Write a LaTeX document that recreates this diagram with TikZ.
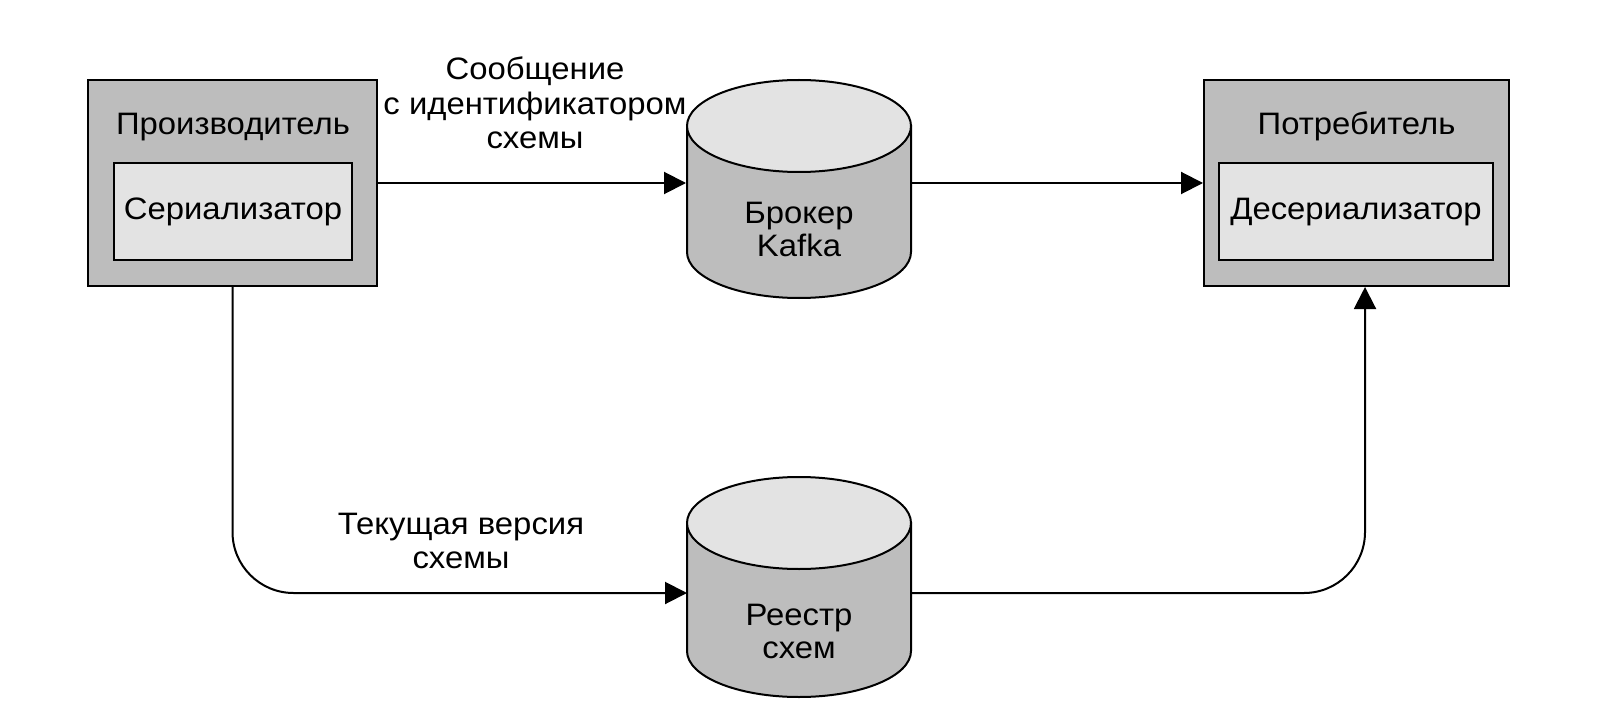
\documentclass[tikz,border=0pt]{standalone}
\usepackage{fontspec}
\setmainfont{Liberation Sans}[FakeStretch=1.06]
\usetikzlibrary{arrows.meta}
\definecolor{boxgray}{HTML}{BDBDBD}
\definecolor{lightfill}{HTML}{E3E3E3}
\begin{document}
\begin{tikzpicture}[x=1pt,y=-1pt,line width=2pt,
  font=\fontsize{31}{34.5}\selectfont,
  outerbox/.style={draw,fill=boxgray,inner sep=0pt},
  innerbox/.style={draw,fill=lightfill,inner sep=0pt},
  lbl/.style={inner sep=0pt,anchor=base},
  hidden/.style={inner sep=0pt},
  arr/.style={-{Triangle[length=22pt,width=22pt]}},
  cylbody/.style={draw,fill=boxgray},
  cyltop/.style={draw,fill=lightfill}]
\useasboundingbox (0,0) rectangle (1602,719);

% Producer
\node[outerbox,minimum width=289pt,minimum height=206pt] (prod) at (232.5,183) {};
\node[innerbox,minimum width=238pt,minimum height=97pt] (ser) at (233,211.5) {};
\node[lbl] (prodt) at (233,135) {Производитель};
\node[lbl] (sert) at (233,220) {Сериализатор};

% Consumer
\node[outerbox,minimum width=305pt,minimum height=206pt] (cons) at (1356.5,183) {};
\node[innerbox,minimum width=274pt,minimum height=97pt] (deser) at (1356,211.5) {};
\node[lbl] (const) at (1356.5,135) {Потребитель};
\node[lbl] (desert) at (1356,220) {Десериализатор};

% Broker cylinder
\draw[cylbody] (687,126) -- (687,252) arc[start angle=180,end angle=0,x radius=112,y radius=46] -- (911,126) -- cycle;
\draw[cyltop] (799,126) ellipse[x radius=112,y radius=46];
\node[hidden,minimum width=224pt,minimum height=218pt] (broker) at (799,189) {};
\node[lbl] (brt1) at (799,224) {Брокер};
\node[lbl] (brt2) at (799,257) {Kafka};

% Registry cylinder
\draw[cylbody] (687,523) -- (687,651) arc[start angle=180,end angle=0,x radius=112,y radius=46] -- (911,523) -- cycle;
\draw[cyltop] (799,523) ellipse[x radius=112,y radius=46];
\node[hidden,minimum width=224pt,minimum height=220pt] (reg) at (799,587) {};
\node[lbl] (rgt1) at (799,625) {Реестр};
\node[lbl] (rgt2) at (799,658) {схем};
\coordinate (regin) at (687,593);
\coordinate (regout) at (911,593);

% Labels
\node[lbl] (m1) at (535,80) {Сообщение};
\node[lbl] (m2) at (535,114.5) {с идентификатором};
\node[lbl] (m3) at (535,149) {схемы};
\node[lbl] (v1) at (461,534) {Текущая версия};
\node[lbl] (v2) at (461,568.5) {схемы};

% Connectors
\draw[arr] (prod.east) -- (prod.east -| broker.west);
\draw[arr] (broker.east |- cons.west) -- (cons.west);
\draw[arr,rounded corners=61pt] (prod.south) |- (regin);
\draw[arr,rounded corners=61pt] (regout) -| ([xshift=8.5pt]cons.south);
\end{tikzpicture}
\end{document}
